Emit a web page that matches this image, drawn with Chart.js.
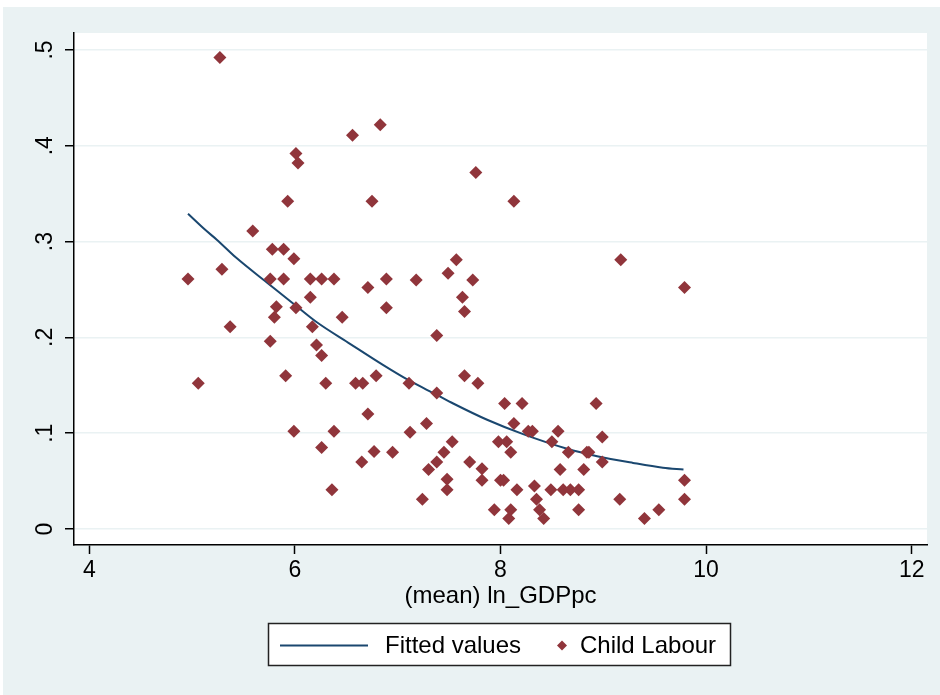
<!DOCTYPE html>
<html>
<head>
<meta charset="utf-8">
<title>Child Labour vs (mean) ln_GDPpc</title>
<script src="https://cdn.jsdelivr.net/npm/chart.js@4.4.0/dist/chart.umd.min.js"></script>
<style>
  html, body { margin: 0; padding: 0; background: #fff; }
  canvas { display: block; }
</style>
</head>
<body>
<canvas id="chart" width="940" height="695"></canvas>
<script>
// axis ticks and labels
const xTicks = [4, 6, 8, 10, 12];
const yTicks = [0, 0.1, 0.2, 0.3, 0.4, 0.5];
const yTickLabels = ['0', '.1', '.2', '.3', '.4', '.5'];
const xTitle = '(mean) ln_GDPpc';

// scatter: (mean) ln_GDPpc vs child labour share
const gdpValues = [
    4.96, 5.06, 5.27, 5.29, 5.37, 5.59, 5.76, 5.76, 5.78, 5.80,
    5.82, 5.89, 5.89, 5.91, 5.93, 5.99, 5.99, 6.01, 6.01, 6.03,
    6.15, 6.15, 6.17, 6.21, 6.26, 6.26, 6.26, 6.30, 6.36, 6.38,
    6.38, 6.46, 6.56, 6.59, 6.65, 6.66, 6.71, 6.71, 6.75, 6.77,
    6.79, 6.83, 6.89, 6.89, 6.95, 7.11, 7.12, 7.18, 7.24, 7.28,
    7.30, 7.38, 7.38, 7.38, 7.45, 7.48, 7.48, 7.49, 7.53, 7.57,
    7.63, 7.65, 7.65, 7.70, 7.73, 7.76, 7.78, 7.82, 7.82, 7.94,
    7.98, 8.00, 8.03, 8.04, 8.06, 8.08, 8.10, 8.10, 8.13, 8.13,
    8.16, 8.21, 8.27, 8.31, 8.33, 8.35, 8.38, 8.42, 8.49, 8.50,
    8.56, 8.58, 8.61, 8.66, 8.68, 8.76, 8.76, 8.81, 8.84, 8.86,
    8.93, 8.99, 8.99, 9.16, 9.17, 9.40, 9.54, 9.79, 9.79, 9.79
];
const childLabour = [
    0.261, 0.152, 0.492, 0.271, 0.211, 0.311, 0.261, 0.196, 0.292, 0.221,
    0.232, 0.292, 0.261, 0.160, 0.342, 0.282, 0.102, 0.392, 0.231, 0.382,
    0.261, 0.242, 0.211, 0.192, 0.261, 0.181, 0.085, 0.152, 0.041, 0.261,
    0.102, 0.221, 0.411, 0.152, 0.070, 0.152, 0.252, 0.120, 0.342, 0.081,
    0.160, 0.422, 0.261, 0.231, 0.080, 0.152, 0.101, 0.260, 0.031, 0.110,
    0.062, 0.202, 0.142, 0.070, 0.080, 0.052, 0.041, 0.267, 0.091, 0.281,
    0.242, 0.227, 0.160, 0.070, 0.260, 0.372, 0.152, 0.063, 0.051, 0.020,
    0.091, 0.051, 0.051, 0.131, 0.091, 0.011, 0.080, 0.020, 0.110, 0.342,
    0.041, 0.131, 0.102, 0.102, 0.045, 0.031, 0.020, 0.011, 0.041, 0.091,
    0.102, 0.062, 0.041, 0.080, 0.041, 0.041, 0.020, 0.062, 0.080, 0.080,
    0.131, 0.096, 0.070, 0.031, 0.281, 0.011, 0.020, 0.252, 0.051, 0.031
];

// fitted values line
const fitX = [4.96, 5.13, 5.24, 5.43, 5.73, 6.01, 6.21, 6.54, 6.86, 7.11, 7.38, 7.54, 7.87, 8.22, 8.64, 8.94, 9.29, 9.58, 9.78];
const fitY = [0.329, 0.312, 0.302, 0.283, 0.257, 0.233, 0.216, 0.193, 0.171, 0.155, 0.140, 0.131, 0.114, 0.099, 0.084, 0.076, 0.069, 0.064, 0.062];

const NAVY = '#1A476F';
const MAROON = '#90353B';
const BLUISH = '#EAF2F3';
const FONT = "'Liberation Sans', Arial, sans-serif";

// stata-like frame, rotated y labels and boxed legend
const stataDecor = {
    id: 'stataDecor',
    beforeDraw(chart) {
        const { ctx, width, height, chartArea: a } = chart;
        ctx.save();
        ctx.fillStyle = '#fff';
        ctx.fillRect(0, 0, width, height);
        ctx.fillStyle = BLUISH;
        ctx.fillRect(3, 7, width - 3, height - 7);
        ctx.fillStyle = '#fff';
        ctx.fillRect(a.left, a.top, a.right - a.left, a.bottom - a.top);
        ctx.restore();
    },
    afterDraw(chart) {
        const { ctx } = chart;
        const yScale = chart.scales.y;
        ctx.save();
        ctx.fillStyle = '#000';
        ctx.font = '23px ' + FONT;
        ctx.textAlign = 'center';
        ctx.textBaseline = 'middle';
        yTicks.forEach((v, i) => {
            const py = yScale.getPixelForValue(v);
            ctx.save();
            ctx.translate(45, py);
            ctx.rotate(-Math.PI / 2);
            ctx.fillText(yTickLabels[i], 0, 1);
            ctx.restore();
        });

        // legend box
        const fit = chart.data.datasets[1];
        const sc = chart.data.datasets[0];
        ctx.fillStyle = '#fff';
        ctx.fillRect(268, 623, 463, 43);
        ctx.strokeStyle = '#222';
        ctx.lineWidth = 1.5;
        ctx.strokeRect(268.5, 623.5, 462, 42);

        ctx.strokeStyle = fit.borderColor;
        ctx.lineWidth = 2;
        ctx.beginPath();
        ctx.moveTo(280, 645.5);
        ctx.lineTo(368, 645.5);
        ctx.stroke();

        ctx.fillStyle = sc.pointBackgroundColor;
        ctx.beginPath();
        ctx.moveTo(562, 640.5);
        ctx.lineTo(567, 645.5);
        ctx.lineTo(562, 650.5);
        ctx.lineTo(557, 645.5);
        ctx.closePath();
        ctx.fill();

        ctx.fillStyle = '#000';
        ctx.font = '24px ' + FONT;
        ctx.textAlign = 'left';
        ctx.textBaseline = 'alphabetic';
        ctx.fillText(fit.label, 385, 653);
        ctx.fillText(sc.label, 580, 653);
        ctx.restore();
    }
};

new Chart(document.getElementById('chart'), {
    type: 'scatter',
    data: {
        datasets: [{
            label: 'Child Labour',
            data: gdpValues.map((x, i) => ({ x: x, y: childLabour[i] })),
            pointStyle: 'rectRot',
            pointRadius: 6.5,
            pointBorderWidth: 0,
            pointBackgroundColor: MAROON,
            pointBorderColor: MAROON,
            order: 1
        }, {
            label: 'Fitted values',
            type: 'line',
            data: fitX.map((x, i) => ({ x: x, y: fitY[i] })),
            borderColor: NAVY,
            borderWidth: 2,
            pointRadius: 0,
            cubicInterpolationMode: 'monotone',
            fill: false,
            order: 2
        }]
    },
    options: {
        responsive: false,
        animation: false,
        layout: { padding: { left: 0, top: 33, right: 13, bottom: 0 } },
        plugins: {
            legend: { display: false },
            tooltip: { enabled: false }
        },
        scales: {
            x: {
                type: 'linear',
                min: 3.851,
                max: 12.149,
                afterBuildTicks: s => { s.ticks = xTicks.map(v => ({ value: v })); },
                afterFit: s => { s.height = 150; },
                grid: { drawOnChartArea: false, drawTicks: true, tickLength: 9, tickColor: '#000', tickWidth: 1.5 },
                border: { display: true, color: '#000', width: 1.5 },
                ticks: { color: '#000', font: { family: FONT, size: 23 }, padding: 3, maxRotation: 0, autoSkip: false },
                title: { display: true, text: xTitle, color: '#000', font: { family: FONT, size: 24 }, padding: { top: 0, bottom: 84 } }
            },
            y: {
                type: 'linear',
                min: -0.0167,
                max: 0.5177,
                afterBuildTicks: s => { s.ticks = yTicks.map(v => ({ value: v })); },
                afterFit: s => { s.width = 74; },
                grid: { color: BLUISH, lineWidth: 1.5, drawTicks: true, tickLength: 9, tickColor: '#000', tickWidth: 1.5 },
                border: { display: true, color: '#000', width: 1.5 },
                ticks: { display: false }
            }
        }
    },
    plugins: [stataDecor]
});
</script>
</body>
</html>
